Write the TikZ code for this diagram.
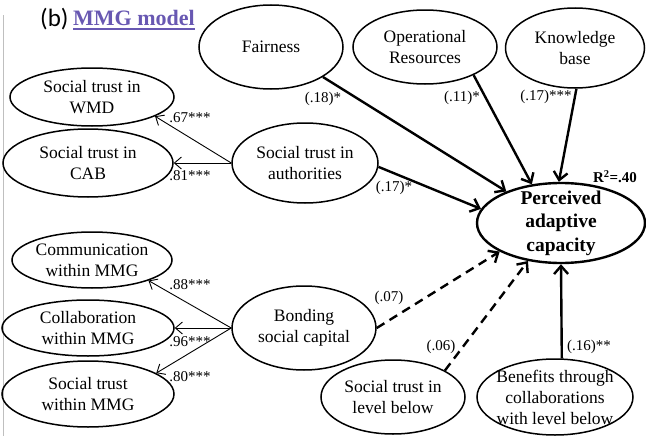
\documentclass[tikz,border=0pt]{standalone}
\usepackage{fontspec}
\setmainfont{Liberation Serif}
\newfontfamily\panelfont{Carlito}
\usetikzlibrary{arrows.meta,shapes.geometric}
\definecolor{titlepurple}{RGB}{104,88,178}
\tikzset{
    line cap=round,line join=round,
    latent var/.style={ellipse,draw,line width=1.5pt,inner sep=-3pt,align=center,
        font=\fontsize{17.5}{21}\selectfont},
    loading arrow/.style={line width=0.9pt,line cap=butt,
        -{Straight Barb[length=7pt,width=12pt,line width=0.9pt]}},
    path arrow/.style={line width=2.4pt,-{Straight Barb[length=8pt,width=14pt]}},
    ns path/.style={path arrow,dash pattern=on 9pt off 6pt},
    coef/.style={inner sep=0pt,font=\fontsize{15}{17}\selectfont},
}
\begin{document}
\begin{tikzpicture}[x=1pt,y=-1pt]
    \useasboundingbox (0,0) rectangle (646,439);
    \draw[black!25,line width=0.8pt] (3,15) -- (3,436);

    \node[anchor=base west,inner sep=0pt,font=\panelfont\fontsize{25}{28}\selectfont] (panel) at (40,27) {(b)};
    \node[anchor=base west,inner sep=0pt,text=titlepurple,font=\fontsize{22}{26}\selectfont\bfseries] (mmg) at (73,26) {MMG model};
    \draw[titlepurple,line width=1.3pt] ([yshift=-3pt]mmg.base west) -- ([yshift=-3pt]mmg.base east);

    \node[latent var,minimum width=144pt,minimum height=84pt] (fair) at (271,47) {Fairness};
    \node[latent var,minimum width=144pt,minimum height=74pt] (opr) at (425,47) {Operational\\Resources};
    \node[latent var,minimum width=139pt,minimum height=80pt] (knw) at (575,48) {Knowledge\\base};
    \node[latent var,minimum width=164pt,minimum height=58pt] (wmd) at (92,97) {Social trust in\\WMD};
    \node[latent var,minimum width=170pt,minimum height=68pt] (cab) at (88,163) {Social trust in\\CAB};
    \node[latent var,minimum width=146pt,minimum height=80pt] (auth) at (305,163) {Social trust in\\authorities};
    \node[latent var,minimum width=160pt,minimum height=56pt] (comm) at (92,260) {Communication\\within MMG};
    \node[latent var,minimum width=172pt,minimum height=56pt] (collab) at (88,328) {Collaboration\\within MMG};
    \node[latent var,minimum width=172pt,minimum height=66pt] (stw) at (88,394) {Social trust\\within MMG};
    \node[latent var,minimum width=144pt,minimum height=84pt] (bond) at (304,328) {Bonding\\social capital};
    \node[latent var,minimum width=144pt,minimum height=74pt] (lvl) at (393,397) {Social trust in\\level below};
    \node[latent var,minimum width=156pt,minimum height=76pt,inner sep=-6pt] (ben) at (555,397) {Benefits through\\collaborations\\with level below};
    \node[latent var,minimum width=168pt,minimum height=80pt,inner sep=-6pt,line width=2.4pt,
        font=\fontsize{19.5}{23.5}\selectfont\bfseries] (pac) at (561,223) {Perceived\\adaptive\\capacity};

    \draw[loading arrow] (auth.west) -- (wmd.-17);
    \draw[loading arrow] (auth.west) -- (cab.east);
    \draw[loading arrow] (bond.west) -- (comm.-20);
    \draw[loading arrow] (bond.west) -- (collab.east);
    \draw[loading arrow] (bond.west) -- (stw.17);

    \draw[path arrow] (fair.-30) -- (pac.150);
    \draw[path arrow] (opr.-30) -- (pac.127);
    \draw[path arrow] (knw.-88) -- (pac.93);
    \draw[path arrow] (auth.-3) -- (pac.170);
    \draw[ns path] (bond.east) -- (pac.205);
    \draw[ns path] (lvl.27) -- (pac.229);
    \draw[path arrow] (ben.80) -- (pac.south);

    \node[coef] (c67) at (190,118) {.67***};
    \node[coef] (c81) at (190,176) {.81***};
    \node[coef] (c88) at (190,285) {.88***};
    \node[coef] (c96) at (190,342) {.96***};
    \node[coef] (c80) at (190,377) {.80***};
    \node[coef] (c18) at (323,99) {(.18)*};
    \node[coef] (c11) at (462,98) {(.11)*};
    \node[coef] (c17k) at (546,97) {(.17)***};
    \node[coef] (c17a) at (394,188) {(.17)*};
    \node[coef] (c07) at (389,298) {(.07)};
    \node[coef] (c06) at (441,347) {(.06)};
    \node[coef] (c16) at (589,347) {(.16)**};
    \node[coef,font=\fontsize{15}{17}\selectfont\bfseries] (rsq) at (615,177) {R\textsuperscript{2}=.40};
\end{tikzpicture}
\end{document}
